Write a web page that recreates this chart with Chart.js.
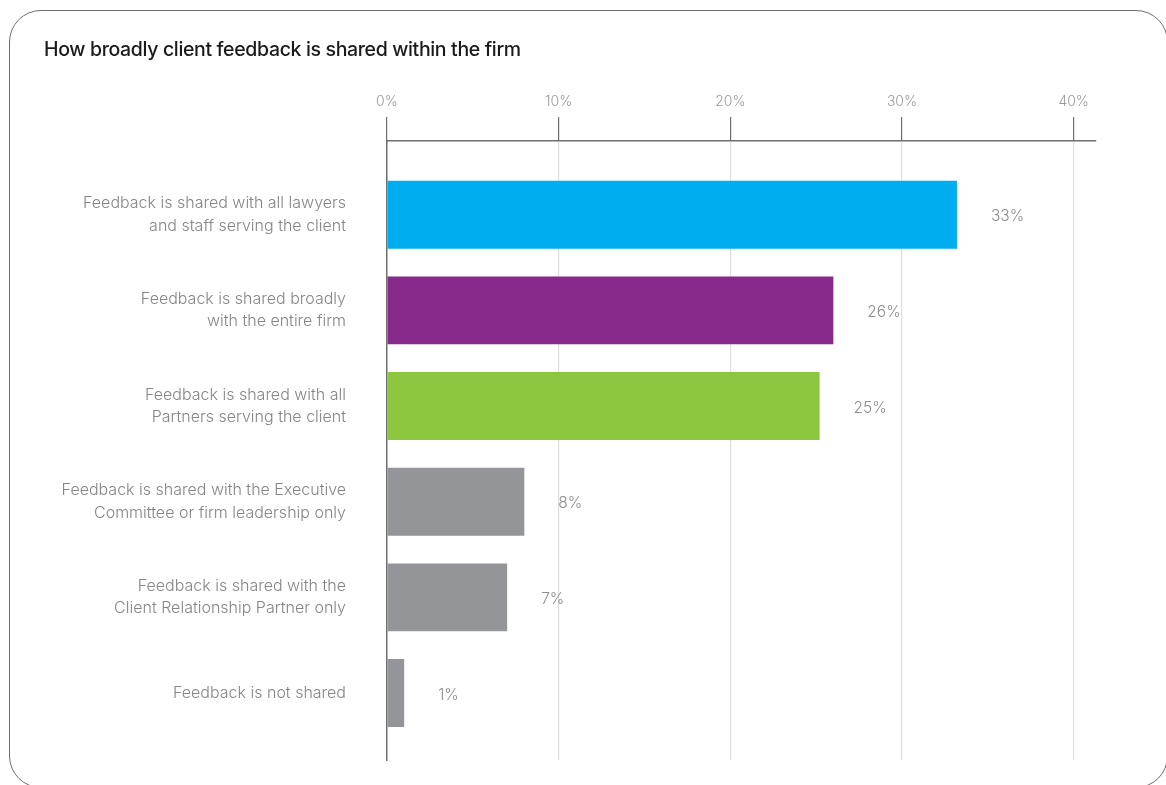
<!DOCTYPE html>
<html>
<head>
<meta charset="utf-8">
<script src="https://cdn.jsdelivr.net/npm/chart.js@4"></script>
<style>
  html, body { margin: 0; padding: 0; background: #fff; overflow: hidden; }
  #wrap { position: relative; width: 1166px; height: 785px; }
  #frame {
    position: absolute; left: 9px; top: 10px; width: 1157px; height: 776px;
    border: 1.5px solid #6e6e6e; border-radius: 32px; pointer-events: none;
  }
  #title {
    position: absolute; left: 44px; top: 37px;
    font-family: Inter, "Noto Sans", sans-serif; font-size: 19.5px; font-weight: 500;
    letter-spacing: -0.35px; color: #1a1a1a;
  }
  #box { position: absolute; left: 0; top: 0; width: 1166px; height: 785px; }
</style>
</head>
<body>
<div id="wrap">
  <div id="box"><canvas id="feedbackChart"></canvas></div>
  <div id="frame"></div>
  <div id="title">How broadly client feedback is shared within the firm</div>
</div>
<script>
// categories (two-line labels, as printed)
const categories = [
  ['Feedback is shared with all lawyers', 'and staff serving the client'],
  ['Feedback is shared broadly', 'with the entire firm'],
  ['Feedback is shared with all', 'Partners serving the client'],
  ['Feedback is shared with the Executive', 'Committee or firm leadership only'],
  ['Feedback is shared with the', 'Client Relationship Partner only'],
  ['Feedback is not shared']
]
const shares = [33.2, 26, 25.2, 8, 7, 1]
const barColors = ['#00aeef', '#86298a', '#8dc63f', '#939598', '#939598', '#939598']
const xTicks = [0, 10, 20, 30, 40]

const lightFont = 'Inter, "Noto Sans", sans-serif'

// percentage text to the right of each bar
const valueLabels = {
  id: 'valueLabels',
  afterDatasetsDraw(chart) {
    const { ctx } = chart
    const meta = chart.getDatasetMeta(0)
    ctx.save()
    ctx.font = '300 15.5px ' + lightFont
    ctx.fillStyle = '#8c8c8c'
    ctx.textAlign = 'left'
    ctx.textBaseline = 'middle'
    meta.data.forEach((bar, i) => {
      ctx.fillText(Math.round(shares[i]) + '%', bar.x + 34, bar.y + 2)
    })
    ctx.restore()
  }
}

const ctx = document.querySelector('#feedbackChart')
const feedbackChart = new Chart(ctx, {
  type: 'bar',
  data: {
    datasets: [{
      data: shares.map((v, i) => ({ x: v, y: i })),
      backgroundColor: barColors,
      borderWidth: 0,
      categoryPercentage: 1,
      barPercentage: 0.71
    }]
  },
  options: {
    indexAxis: 'y',
    responsive: true,
    maintainAspectRatio: false,
    animation: false,
    layout: { padding: { top: 0, left: 0, right: 70, bottom: 25 } },
    plugins: {
      legend: { display: false },
      tooltip: { enabled: false }
    },
    scales: {
      x: {
        type: 'linear',
        position: 'top',
        min: 0,
        max: 41.3,
        afterBuildTicks: (s) => { s.ticks = xTicks.map(v => ({ value: v })) },
        afterFit: (s) => { s.height = 141; s.paddingLeft = 0; s.paddingRight = 0 },
        ticks: {
          callback: (v) => v + '%',
          color: '#9a9a9a',
          font: { family: lightFont, size: 14, weight: 300 },
          padding: 7,
          maxRotation: 0
        },
        grid: { color: '#dedede', tickColor: '#6e6e6e', tickLength: 24, lineWidth: 1.2 },
        border: { color: '#6e6e6e', width: 1.5 }
      },
      y: {
        type: 'linear',
        reverse: true,
        offset: false,
        min: -0.77,
        max: 5.7,
        afterBuildTicks: (s) => { s.ticks = categories.map((c, i) => ({ value: i })) },
        // tick padding is also added above/below the axis; drop that
        afterFit: (s) => { s.width = 387; s.paddingTop = 0; s.paddingBottom = 0 },
        ticks: {
          callback: (v) => categories[v],
          color: '#858585',
          font: { family: lightFont, size: 16, weight: 300, lineHeight: 1.4 },
          padding: 41
        },
        grid: { display: false, drawTicks: false, offset: false },
        border: { color: '#6e6e6e', width: 1.5 }
      }
    }
  },
  plugins: [valueLabels]
})
</script>
</body>
</html>
